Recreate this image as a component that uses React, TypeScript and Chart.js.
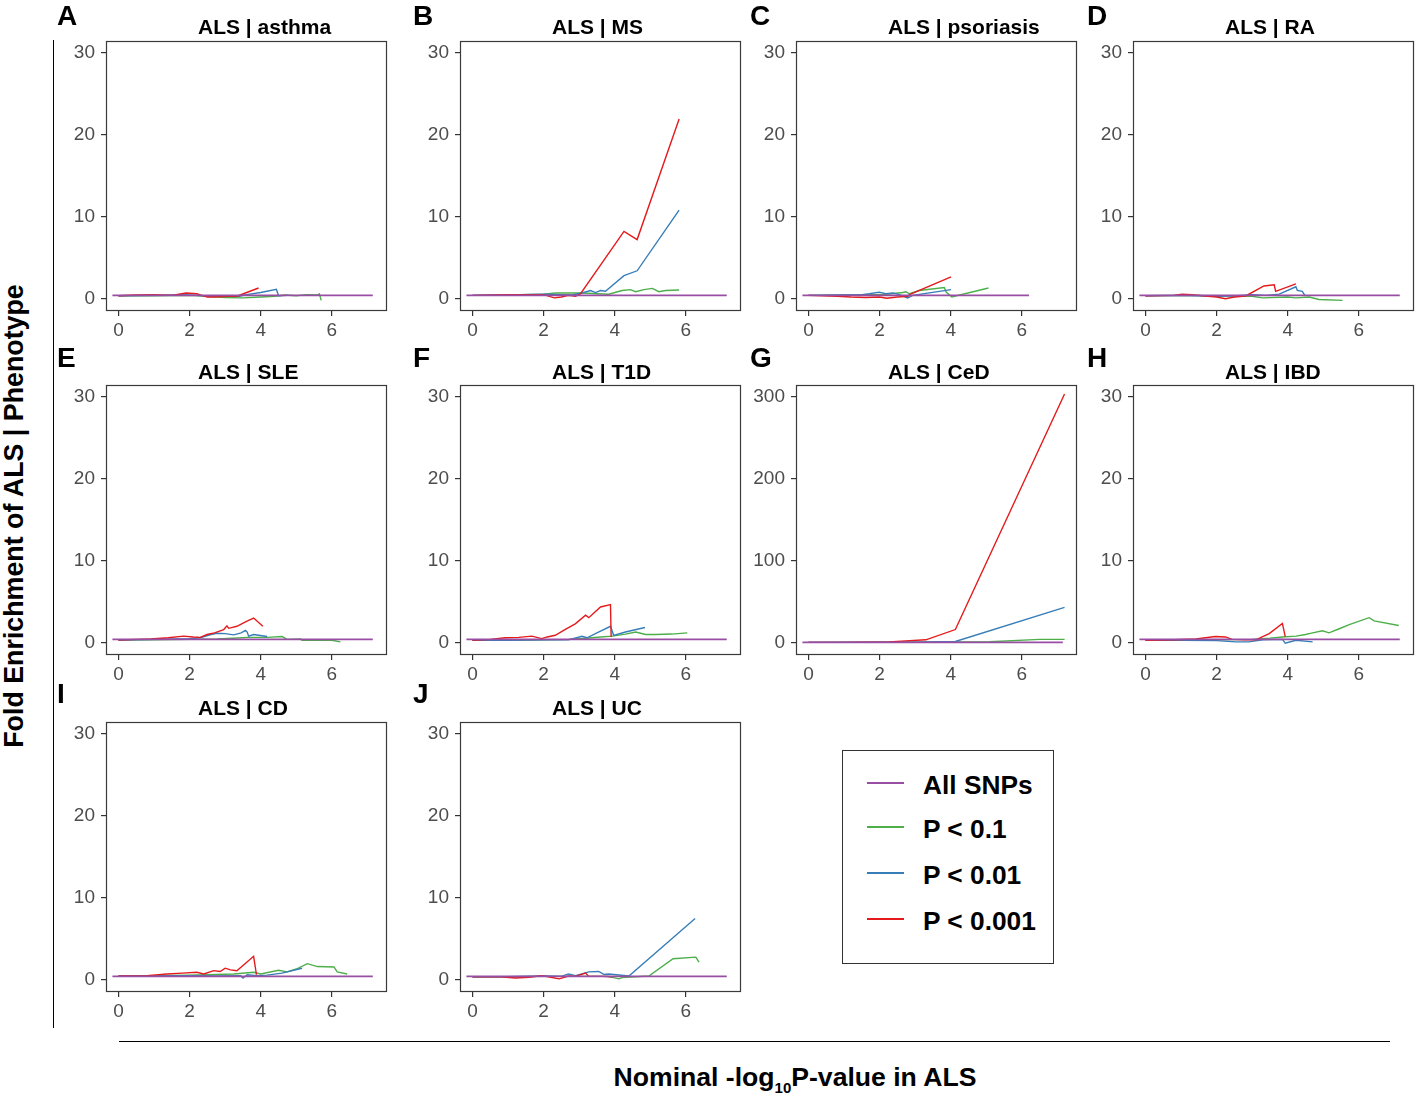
import React, { useEffect, useRef } from "react";
import { Chart, registerables } from "chart.js";

Chart.register(...registerables);

type Pt = [number, number];

// ---------- axis / legend values ----------
const xTicks = [0, 2, 4, 6];
const yTicks = [0, 10, 20, 30];
const yTicksCeD = [0, 100, 200, 300];
const seriesNames = ["All SNPs", "P < 0.1", "P < 0.01", "P < 0.001"];
const seriesColors = ["#984EA3", "#4DAF4A", "#377EB8", "#E41A1C"];
const panelLetters = ["A", "B", "C", "D", "E", "F", "G", "H", "I", "J"];
const panelTitles = [
  "ALS | asthma", "ALS | MS", "ALS | psoriasis", "ALS | RA",
  "ALS | SLE", "ALS | T1D", "ALS | CeD", "ALS | IBD",
  "ALS | CD", "ALS | UC",
];

// ---------- data: [nominal -log10 P, fold enrichment] ----------
const allSnps: Pt[] = [[-0.17, 0.4], [7.15, 0.4]];
const allSnpsPsoriasis: Pt[] = [[-0.17, 0.4], [6.2, 0.4]];

const asthmaP1e1: Pt[] = [[0,0.35],[1,0.35],[2,0.4],[2.5,0.3],[3,0.15],[3.5,0.1],[4,0.2],[4.4,0.3],[4.7,0.45],[5,0.35],[5.3,0.5],[5.6,0.45],[5.65,0.6],[5.7,-0.2]];
const asthmaP1e2: Pt[] = [[0,0.35],[1,0.4],[1.8,0.5],[2.2,0.4],[2.6,0.3],[3,0.35],[3.4,0.3],[3.6,0.5],[4,0.75],[4.44,1.15],[4.5,0.35],[4.75,0.4]];
const asthmaP1e3: Pt[] = [[0,0.35],[0.5,0.45],[1,0.5],[1.5,0.4],[1.9,0.7],[2.2,0.6],[2.5,0.2],[2.7,0.2],[3.1,0.3],[3.33,0.3],[3.94,1.3]];

const msP1e1: Pt[] = [[0,0.4],[1,0.45],[2,0.55],[2.33,0.7],[3.08,0.7],[3.83,0.55],[4.21,1.0],[4.44,1.1],[4.59,0.85],[4.82,1.1],[5.06,1.25],[5.24,0.85],[5.43,1.0],[5.81,1.05]];
const msP1e2: Pt[] = [[0,0.4],[1,0.45],[2,0.55],[2.5,0.5],[2.8,0.45],[3.08,0.7],[3.32,1.0],[3.46,0.75],[3.6,1.0],[3.74,0.9],[4.26,2.8],[4.63,3.4],[5.81,10.8]];
const msP1e3: Pt[] = [[0,0.4],[1,0.5],[1.5,0.5],[2,0.5],[2.3,0.1],[2.5,0.2],[2.7,0.4],[2.9,0.3],[3.04,0.6],[4.26,8.2],[4.63,7.2],[5.81,21.9]];

const psoriasisP1e1: Pt[] = [[0,0.4],[1,0.45],[1.8,0.5],[2.2,0.55],[2.65,0.75],[2.74,0.85],[2.84,0.6],[3.12,1.0],[3.82,1.35],[3.87,0.8],[4.03,0.2],[5.06,1.3]];
const psoriasisP1e2: Pt[] = [[0,0.4],[1,0.45],[1.5,0.5],[1.71,0.6],[1.99,0.8],[2.18,0.6],[2.37,0.7],[2.55,0.5],[2.79,0.1],[2.93,0.4],[4.01,1.1]];
const psoriasisP1e3: Pt[] = [[0,0.4],[0.8,0.3],[1.2,0.2],[1.6,0.15],[2.0,0.2],[2.2,0.05],[2.5,0.2],[2.8,0.3],[2.84,0.5],[4.01,2.65]];

const raP1e1: Pt[] = [[0,0.35],[1,0.4],[2,0.35],[3,0.3],[3.29,0.1],[4,0.2],[4.23,0.1],[4.6,0.2],[4.88,-0.1],[5.54,-0.2]];
const raP1e2: Pt[] = [[0,0.35],[1,0.4],[2,0.3],[2.6,0.35],[3.0,0.5],[3.4,0.4],[3.76,0.55],[4.23,1.45],[4.27,1.0],[4.41,0.9],[4.49,0.35]];
const raP1e3: Pt[] = [[0,0.35],[0.8,0.4],[1.03,0.55],[1.31,0.5],[1.6,0.35],[2.0,0.2],[2.25,0],[2.5,0.2],[2.82,0.33],[3.33,1.55],[3.62,1.7],[3.66,0.9],[4.23,1.8]];

const sleP1e1: Pt[] = [[0,0.33],[1,0.35],[2,0.4],[2.77,0.45],[3.2,0.55],[3.62,0.65],[4.18,0.65],[4.6,0.75],[4.74,0.4],[5.12,0.45],[5.16,0.3],[6.0,0.3],[6.24,0.1]];
const sleP1e2: Pt[] = [[0,0.33],[1,0.4],[2,0.5],[2.3,0.6],[2.6,1.0],[2.77,1.15],[3.0,1.1],[3.24,0.95],[3.45,1.2],[3.57,1.5],[3.62,1.3],[3.66,0.8],[3.8,1.0],[4.18,0.75]];
const sleP1e3: Pt[] = [[0,0.33],[0.5,0.4],[0.9,0.45],[1.4,0.6],[1.83,0.8],[2.1,0.7],[2.3,0.65],[2.49,1.0],[2.7,1.2],[2.96,1.6],[3.05,2.05],[3.1,1.75],[3.33,2.0],[3.6,2.6],[3.8,3.0],[4.06,2.0]];

const t1dP1e1: Pt[] = [[0,0.3],[1,0.3],[2,0.35],[2.7,0.4],[3.27,0.57],[3.6,0.7],[3.93,0.8],[4.3,1.05],[4.59,1.3],[4.87,1.0],[5.15,1.0],[5.6,1.05],[6.04,1.2]];
const t1dP1e2: Pt[] = [[0,0.3],[1,0.3],[2,0.35],[2.7,0.35],[3.08,0.78],[3.22,0.6],[3.5,1.2],[3.88,2.0],[3.97,0.9],[4.3,1.3],[4.85,1.85]];
const t1dP1e3: Pt[] = [[0,0.3],[0.5,0.4],[0.92,0.6],[1.3,0.65],[1.67,0.8],[1.95,0.5],[2.1,0.7],[2.33,0.9],[2.6,1.6],[2.89,2.3],[3.18,3.35],[3.27,3.05],[3.6,4.35],[3.88,4.65],[3.9,0.7]];

const cedP1e1: Pt[] = [[0,0.4],[3,0.5],[4.5,0.8],[5.09,1.2],[6.5,4],[7.2,4]];
const cedP1e2: Pt[] = [[0,0.4],[2,0.5],[3,0.6],[4.13,1.5],[7.2,43]];
const cedP1e3: Pt[] = [[0,0.4],[1,0.4],[2.27,1],[3.3,3.5],[4.13,16],[7.2,303]];

const ibdP1e1: Pt[] = [[0,0.3],[1,0.3],[2,0.35],[3,0.4],[3.5,0.55],[3.85,0.7],[4.23,0.8],[4.5,1.0],[4.7,1.2],[4.98,1.45],[5.16,1.2],[5.45,1.7],[5.73,2.2],[6.29,3.05],[6.43,2.65],[7.12,2.1]];
const ibdP1e2: Pt[] = [[0,0.3],[1,0.3],[2,0.25],[2.54,0.1],[2.9,0.1],[3.3,0.35],[3.85,0.4],[3.93,-0.05],[4.23,0.3],[4.7,0.1]];
const ibdP1e3: Pt[] = [[0,0.3],[0.8,0.35],[1.41,0.45],[1.97,0.75],[2.25,0.7],[2.44,0.4],[2.8,0.35],[3.1,0.35],[3.48,1.1],[3.85,2.35],[3.93,0.75]];

const cdP1e1: Pt[] = [[0,0.45],[1,0.5],[2,0.55],[3.24,0.7],[3.8,0.9],[4.0,0.7],[4.5,1.15],[4.74,0.95],[5.0,1.3],[5.31,1.95],[5.59,1.6],[6.06,1.55],[6.15,0.95],[6.43,0.7]];
const cdP1e2: Pt[] = [[0,0.45],[1,0.45],[2,0.5],[2.77,0.45],[3.43,0.5],[3.5,0.2],[3.62,0.6],[3.9,0.5],[4.18,0.55],[4.6,0.8],[5.16,1.4]];
const cdP1e3: Pt[] = [[0,0.45],[0.8,0.5],[1.36,0.7],[1.8,0.8],[2.2,0.9],[2.4,0.7],[2.68,1.1],[2.86,1.0],[3.0,1.4],[3.15,1.2],[3.33,1.1],[3.8,2.85],[3.88,0.6]];

const ucP1e1: Pt[] = [[0,0.35],[1,0.35],[2,0.4],[3,0.4],[3.8,0.4],[4.12,0.1],[4.2,0.25],[4.96,0.45],[5.64,2.55],[6.28,2.75],[6.37,2.15]];
const ucP1e2: Pt[] = [[0,0.35],[1,0.35],[2,0.45],[2.5,0.4],[2.7,0.7],[2.9,0.5],[3.27,0.95],[3.55,1.0],[3.69,0.65],[3.83,0.7],[4.4,0.45],[6.26,7.45]];
const ucP1e3: Pt[] = [[0,0.35],[0.8,0.35],[1.2,0.2],[1.6,0.3],[1.95,0.5],[2.2,0.3],[2.44,0.1],[2.7,0.45],[2.9,0.4],[3.18,0.8],[3.27,0.4],[3.65,0.4],[3.93,0.35]];

// ---------- layout ----------
const FONT = "'Liberation Sans', Arial, Helvetica, sans-serif";
const plotLefts = [106, 460, 796, 1133];
const plotTops = [41, 385, 722];
const letterLefts = [57, 413, 750, 1087];
const letterYs = [16, 358, 694];
const titleYs = [26, 371, 707];
const PLOT_W = 281;
const PLOT_H = 270;
const YW = 62;
const PT = 20;
const PR = 4;
const XH = 36;
const X_MIN = -0.35;
const X_MAX = 7.55;

type PanelCfg = {
  idx: number;
  all: Pt[];
  p1: Pt[];
  p2: Pt[];
  p3: Pt[];
  ticks: number[];
  yMin: number;
  yMax: number;
};

const panels: PanelCfg[] = [
  { idx: 0, all: allSnps, p1: asthmaP1e1, p2: asthmaP1e2, p3: asthmaP1e3, ticks: yTicks, yMin: -1.5, yMax: 31.4 },
  { idx: 1, all: allSnps, p1: msP1e1, p2: msP1e2, p3: msP1e3, ticks: yTicks, yMin: -1.5, yMax: 31.4 },
  { idx: 2, all: allSnpsPsoriasis, p1: psoriasisP1e1, p2: psoriasisP1e2, p3: psoriasisP1e3, ticks: yTicks, yMin: -1.5, yMax: 31.4 },
  { idx: 3, all: allSnps, p1: raP1e1, p2: raP1e2, p3: raP1e3, ticks: yTicks, yMin: -1.5, yMax: 31.4 },
  { idx: 4, all: allSnps, p1: sleP1e1, p2: sleP1e2, p3: sleP1e3, ticks: yTicks, yMin: -1.5, yMax: 31.4 },
  { idx: 5, all: allSnps, p1: t1dP1e1, p2: t1dP1e2, p3: t1dP1e3, ticks: yTicks, yMin: -1.5, yMax: 31.4 },
  { idx: 6, all: allSnps, p1: cedP1e1, p2: cedP1e2, p3: cedP1e3, ticks: yTicksCeD, yMin: -15, yMax: 314 },
  { idx: 7, all: allSnps, p1: ibdP1e1, p2: ibdP1e2, p3: ibdP1e3, ticks: yTicks, yMin: -1.5, yMax: 31.4 },
  { idx: 8, all: allSnps, p1: cdP1e1, p2: cdP1e2, p3: cdP1e3, ticks: yTicks, yMin: -1.5, yMax: 31.4 },
  { idx: 9, all: allSnps, p1: ucP1e1, p2: ucP1e2, p3: ucP1e3, ticks: yTicks, yMin: -1.5, yMax: 31.4 },
];

const boxPlugin = {
  id: "panelBox",
  afterDraw(chart: any) {
    const { ctx, chartArea: a } = chart;
    ctx.save();
    ctx.strokeStyle = "#3a3a3a";
    ctx.lineWidth = 1.2;
    ctx.strokeRect(
      Math.round(a.left) + 0.5,
      Math.round(a.top) + 0.5,
      Math.round(a.right - a.left) - 1,
      Math.round(a.bottom - a.top) - 1
    );
    ctx.restore();
  },
};

const toXY = (pts: Pt[]) => pts.map(([x, y]) => ({ x, y }));

function Panel({ cfg }: { cfg: PanelCfg }) {
  const ref = useRef<HTMLCanvasElement>(null);
  const col = cfg.idx % 4;
  const row = Math.floor(cfg.idx / 4);
  const left = plotLefts[col] - YW;
  const top = plotTops[row] - PT;
  const W = YW + PLOT_W + PR;
  const H = PT + PLOT_H + XH;

  useEffect(() => {
    const mk = (pts: Pt[], color: string, width: number, label: string) => ({
      label,
      data: toXY(pts),
      borderColor: color,
      backgroundColor: color,
      borderWidth: width,
      pointRadius: 0,
      fill: false,
      tension: 0,
    });
    const tickFont = { size: 19, family: FONT };
    const chart = new Chart(ref.current as HTMLCanvasElement, {
      type: "line",
      data: {
        datasets: [
          mk(cfg.all, seriesColors[0], 1.8, seriesNames[0]),
          mk(cfg.p3, seriesColors[3], 1.4, seriesNames[3]),
          mk(cfg.p2, seriesColors[2], 1.4, seriesNames[2]),
          mk(cfg.p1, seriesColors[1], 1.4, seriesNames[1]),
        ] as any,
      },
      options: {
        animation: false,
        responsive: false,
        maintainAspectRatio: false,
        devicePixelRatio: 1,
        layout: { padding: { top: PT, right: PR, left: 0, bottom: 0 } },
        plugins: {
          legend: { display: false },
          tooltip: { enabled: false },
          title: { display: false },
        },
        scales: {
          x: {
            type: "linear",
            min: X_MIN,
            max: X_MAX,
            afterBuildTicks: (s: any) => {
              s.ticks = xTicks.map((v) => ({ value: v }));
            },
            afterFit: (s: any) => {
              s.height = XH;
            },
            grid: { display: true, drawOnChartArea: false, drawTicks: true, tickLength: 5, color: "#333333", lineWidth: 1.2 },
            border: { display: false },
            ticks: { padding: 3, color: "#4d4d4d", font: tickFont, maxRotation: 0, autoSkip: false },
          },
          y: {
            type: "linear",
            min: cfg.yMin,
            max: cfg.yMax,
            afterBuildTicks: (s: any) => {
              s.ticks = cfg.ticks.map((v) => ({ value: v }));
            },
            afterFit: (s: any) => {
              s.width = YW;
            },
            grid: { display: true, drawOnChartArea: false, drawTicks: true, tickLength: 5, color: "#333333", lineWidth: 1.2 },
            border: { display: false },
            ticks: { padding: 6, color: "#4d4d4d", font: tickFont, autoSkip: false },
          },
        },
      } as any,
      plugins: [boxPlugin],
    });
    return () => chart.destroy();
  }, [cfg]);

  return (
    <canvas
      ref={ref}
      width={W}
      height={H}
      style={{ position: "absolute", left, top, width: W, height: H }}
    />
  );
}

const textBase: React.CSSProperties = {
  position: "absolute",
  fontFamily: FONT,
  fontWeight: "bold",
  color: "#000",
  lineHeight: 1,
  whiteSpace: "nowrap",
};

export default function App() {
  const legendLineYs = [783, 827, 873, 919];
  return (
    <div
      style={{
        position: "absolute",
        left: 0,
        top: 0,
        width: 1418,
        height: 1097,
        overflow: "hidden",
        background: "#ffffff",
      }}
    >
      {panels.map((p) => (
        <Panel key={p.idx} cfg={p} />
      ))}
      {panels.map((p) => {
        const col = p.idx % 4;
        const row = Math.floor(p.idx / 4);
        return (
          <React.Fragment key={"t" + p.idx}>
            <div
              style={{
                ...textBase,
                fontSize: 28,
                left: letterLefts[col],
                top: letterYs[row],
                transform: "translateY(-50%)",
              }}
            >
              {panelLetters[p.idx]}
            </div>
            <div
              style={{
                ...textBase,
                fontSize: 21,
                left: plotLefts[col] + 92,
                top: titleYs[row],
                transform: "translateY(-50%)",
              }}
            >
              {panelTitles[p.idx]}
            </div>
          </React.Fragment>
        );
      })}

      {/* shared y-axis title and bracket line */}
      <div style={{ position: "absolute", left: 53, top: 40, width: 1, height: 988, background: "#000" }} />
      <div
        style={{
          ...textBase,
          fontSize: 26.8,
          left: 14,
          top: 516,
          transform: "translate(-50%, -50%) rotate(-90deg)",
        }}
      >
        Fold Enrichment of ALS | Phenotype
      </div>

      {/* shared x-axis title and bracket line */}
      <div style={{ position: "absolute", left: 119, top: 1041, width: 1271, height: 1, background: "#000" }} />
      <div
        style={{
          ...textBase,
          fontSize: 26.6,
          left: 795,
          top: 1077,
          transform: "translate(-50%, -50%)",
        }}
      >
        Nominal -log<span style={{ fontSize: 15, position: "relative", top: 7 }}>10</span>P-value in ALS
      </div>

      {/* legend */}
      <div
        style={{
          position: "absolute",
          left: 842,
          top: 750,
          width: 210,
          height: 212,
          border: "1.3px solid #333",
        }}
      />
      {seriesNames.map((name, i) => (
        <React.Fragment key={name}>
          <div
            style={{
              position: "absolute",
              left: 867,
              top: legendLineYs[i] - 1,
              width: 37,
              height: 2.2,
              background: seriesColors[i],
            }}
          />
          <div
            style={{
              ...textBase,
              fontSize: 26.3,
              left: 923,
              top: legendLineYs[i] + 2,
              transform: "translateY(-50%)",
            }}
          >
            {name}
          </div>
        </React.Fragment>
      ))}
    </div>
  );
}
